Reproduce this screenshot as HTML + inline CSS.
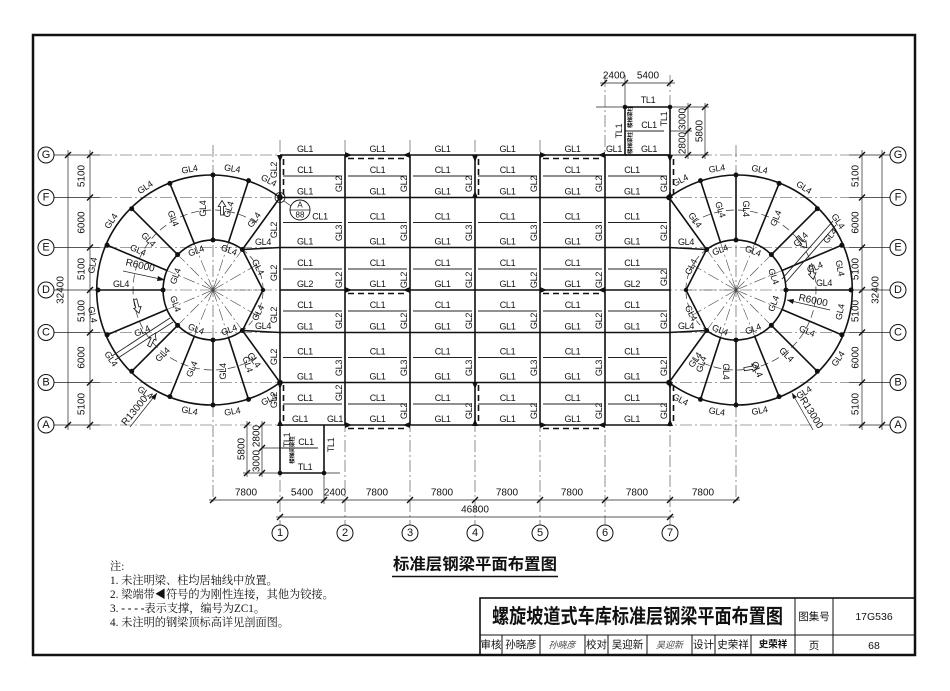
<!DOCTYPE html>
<html><head><meta charset="utf-8"><style>
html,body{margin:0;padding:0;background:#fff}
svg{display:block}
text{font-family:"Liberation Sans","Noto Sans CJK SC",sans-serif;fill:#111;text-anchor:middle;dominant-baseline:central}
.t{font-size:9px;letter-spacing:-0.3px}
.d{font-size:10px}
.m{stroke:#111;stroke-width:1.6;fill:none}
.s{stroke:#222;stroke-width:0.9;fill:none}
.th{stroke:#222;stroke-width:0.7;fill:none}
.ax{stroke:#444;stroke-width:0.6;fill:none;stroke-dasharray:12 3 2 3}
.br{stroke:#111;stroke-width:1.6;fill:none;stroke-dasharray:6 4}
.cj text{font-family:"Liberation Serif","Noto Serif CJK SC",serif;text-anchor:start;font-size:11.2px}
</style></head><body>
<svg width="950" height="691" viewBox="0 0 950 691" xmlns="http://www.w3.org/2000/svg">
<defs>
<path id="tk" d="M-3,3L3,-3" stroke="#111" stroke-width="1.4"/>
<path id="tr" d="M0,0L-7,-3L-7,3Z" fill="#111"/>
<path id="ar" d="M-1.6,7V-1.5H-3.8L0,-7.5L3.8,-1.5H1.6V7Z" fill="#fff" stroke="#111" stroke-width="0.8"/>
<g id="circ">
<path class="ax" d="M213,290L263,290M213,290L256.3,265M213,290L242.4,249.5M213,290L228.5,242.4M213,290L194.3,243.6M213,290L177.6,254.6M213,290L167,270.5M213,290L167,309.5M213,290L177.6,325.4M213,290L194.3,336.4M213,290L228.5,337.6M213,290L242.4,330.5M213,290L256.3,315"/>
<path d="M256.6,222.9A80,80 0 1 0 256.6,357.1" stroke="#333" stroke-width="0.7" fill="none" stroke-dasharray="8 4"/>
<path d="M242.4,249.5A50,50 0 0 1 242.4,330.5" stroke="#333" stroke-width="0.7" fill="none" stroke-dasharray="6 4"/>
<path class="m" d="M280,197.5A115,115 0 1 0 280,382.5"/>
<path class="m" d="M242.4,249.5A50,50 0 1 0 242.4,330.5"/>
<path class="m" d="M242.4,249.5L263,290L242.4,330.5"/>
<path class="m" d="M248.5,180.6L228.5,242.4M213,175L213,240M169.9,183.4L194.3,243.6M131.7,208.7L177.6,254.6M107.1,245.1L167,270.5M98,290L163,290M107.1,334.9L167,309.5M131.7,371.3L177.6,325.4M169.9,396.6L194.3,336.4M213,405L213,340M248.5,399.4L228.5,337.6M280,197.5L242.4,249.5M280,382.5L242.4,330.5M242.4,249.5L280,247.5M242.4,330.5L280,332.5"/>
<g fill="#111">
<circle cx="280" cy="197.5" r="2.8"/><circle cx="248.5" cy="180.6" r="2.5"/><circle cx="213" cy="175" r="2.5"/><circle cx="169.9" cy="183.4" r="2.5"/><circle cx="131.7" cy="208.7" r="2.5"/><circle cx="107.1" cy="245.1" r="2.5"/><circle cx="98" cy="290" r="2.5"/><circle cx="107.1" cy="334.9" r="2.5"/><circle cx="131.7" cy="371.3" r="2.5"/><circle cx="169.9" cy="396.6" r="2.5"/><circle cx="213" cy="405" r="2.5"/><circle cx="248.5" cy="399.4" r="2.5"/><circle cx="280" cy="382.5" r="2.8"/>
<circle cx="242.4" cy="249.5" r="2.5"/><circle cx="213" cy="240" r="2.5"/><circle cx="177.6" cy="254.6" r="2.5"/><circle cx="163" cy="290" r="2.5"/><circle cx="177.6" cy="325.4" r="2.5"/><circle cx="213" cy="340" r="2.5"/><circle cx="242.4" cy="330.5" r="2.5"/><circle cx="263" cy="290" r="2.2"/>
</g>
</g>
</defs>

<!-- frame -->
<rect x="33" y="35" width="882" height="620" fill="none" stroke="#111" stroke-width="2.5"/>

<!-- axis lines -->
<path class="th" d="M54,155H100M54,197.5H100M54,247.5H100M54,290H100M54,332.5H100M54,382.5H100M54,425H100M849,155H890M849,197.5H890M849,247.5H890M849,290H890M849,332.5H890M849,382.5H890M849,425H890"/>
<path class="ax" d="M100,155H849M100,197.5H849M100,247.5H849M100,290H849M100,332.5H849M100,382.5H849M100,425H849"/>
<path class="ax" d="M280,140V525M345,140V525M410,140V525M475,140V525M540,140V525M605,75V525M670,75V525M213,145V504M736,145V504"/>

<!-- left dims -->
<path class="th" d="M90,150V430M68,150V430"/>
<use href="#tk" x="90" y="155"/><use href="#tk" x="90" y="197.5"/><use href="#tk" x="90" y="247.5"/><use href="#tk" x="90" y="290"/><use href="#tk" x="90" y="332.5"/><use href="#tk" x="90" y="382.5"/><use href="#tk" x="90" y="425"/>
<use href="#tk" x="68" y="155"/><use href="#tk" x="68" y="425"/>
<g class="d">
<text transform="translate(82,176) rotate(-90)">5100</text>
<text transform="translate(82,222.5) rotate(-90)">6000</text>
<text transform="translate(82,269) rotate(-90)">5100</text>
<text transform="translate(82,311) rotate(-90)">5100</text>
<text transform="translate(82,357.5) rotate(-90)">6000</text>
<text transform="translate(82,404) rotate(-90)">5100</text>
<text transform="translate(61,290) rotate(-90)">32400</text>
</g>
<!-- right dims -->
<path class="th" d="M862,150V430M882,150V430"/>
<use href="#tk" x="862" y="155"/><use href="#tk" x="862" y="197.5"/><use href="#tk" x="862" y="247.5"/><use href="#tk" x="862" y="290"/><use href="#tk" x="862" y="332.5"/><use href="#tk" x="862" y="382.5"/><use href="#tk" x="862" y="425"/>
<use href="#tk" x="882" y="155"/><use href="#tk" x="882" y="425"/>
<g class="d">
<text transform="translate(856,176) rotate(-90)">5100</text>
<text transform="translate(856,222.5) rotate(-90)">6000</text>
<text transform="translate(856,269) rotate(-90)">5100</text>
<text transform="translate(856,311) rotate(-90)">5100</text>
<text transform="translate(856,357.5) rotate(-90)">6000</text>
<text transform="translate(856,404) rotate(-90)">5100</text>
<text transform="translate(876,290) rotate(-90)">32400</text>
</g>

<!-- axis bubbles -->
<g fill="#fff" stroke="#111" stroke-width="1">
<circle cx="46" cy="155" r="8"/><circle cx="46" cy="197.5" r="8"/><circle cx="46" cy="247.5" r="8"/><circle cx="46" cy="290" r="8"/><circle cx="46" cy="332.5" r="8"/><circle cx="46" cy="382.5" r="8"/><circle cx="46" cy="425" r="8"/>
<circle cx="898" cy="155" r="8"/><circle cx="898" cy="197.5" r="8"/><circle cx="898" cy="247.5" r="8"/><circle cx="898" cy="290" r="8"/><circle cx="898" cy="332.5" r="8"/><circle cx="898" cy="382.5" r="8"/><circle cx="898" cy="425" r="8"/>
<circle cx="280" cy="533" r="8"/><circle cx="345" cy="533" r="8"/><circle cx="410" cy="533" r="8"/><circle cx="475" cy="533" r="8"/><circle cx="540" cy="533" r="8"/><circle cx="605" cy="533" r="8"/><circle cx="670" cy="533" r="8"/>
</g>
<g style="font-size:11px">
<text x="46" y="155">G</text><text x="46" y="197.5">F</text><text x="46" y="247.5">E</text><text x="46" y="290">D</text><text x="46" y="332.5">C</text><text x="46" y="382.5">B</text><text x="46" y="425">A</text>
<text x="898" y="155">G</text><text x="898" y="197.5">F</text><text x="898" y="247.5">E</text><text x="898" y="290">D</text><text x="898" y="332.5">C</text><text x="898" y="382.5">B</text><text x="898" y="425">A</text>
<text x="280" y="533">1</text><text x="345" y="533">2</text><text x="410" y="533">3</text><text x="475" y="533">4</text><text x="540" y="533">5</text><text x="605" y="533">6</text><text x="670" y="533">7</text>
</g>

<!-- bottom dims -->
<path class="th" d="M209,500H740M276,517H674M324,473V504"/>
<use href="#tk" x="213" y="500"/><use href="#tk" x="280" y="500"/><use href="#tk" x="324" y="500"/><use href="#tk" x="345" y="500"/><use href="#tk" x="410" y="500"/><use href="#tk" x="475" y="500"/><use href="#tk" x="540" y="500"/><use href="#tk" x="605" y="500"/><use href="#tk" x="670" y="500"/><use href="#tk" x="736" y="500"/>
<use href="#tk" x="280" y="517"/><use href="#tk" x="670" y="517"/>
<g class="d">
<text x="246" y="493">7800</text><text x="302" y="493">5400</text><text x="335" y="493">2400</text><text x="377" y="493">7800</text><text x="442" y="493">7800</text><text x="507" y="493">7800</text><text x="572" y="493">7800</text><text x="637" y="493">7800</text><text x="703" y="493">7800</text>
<text x="475" y="510">46800</text>
</g>

<!-- circles -->
<use href="#circ"/>
<use href="#circ" transform="translate(949,0) scale(-1,1)"/>

<!-- double lines, arrows, radius leaders -->
<path class="s" d="M112,356L170,318M115,360L173,322M782,279L833,221M786,282L836,225"/>
<use href="#ar" transform="translate(222,208)"/>
<use href="#ar" transform="translate(137,306) rotate(165)"/>
<use href="#ar" transform="translate(152,340) rotate(25)"/>
<use href="#ar" transform="translate(802,242) rotate(140)"/>
<use href="#ar" transform="translate(812,272) rotate(170)"/>
<use href="#ar" transform="translate(751,368) rotate(80)"/>
<path class="th" d="M123,271L165,280M130,427L157,393M787,300L830,310M792,393L813,430"/>
<path d="M165,280L158,276L157,281Z M157,393L151,397L155,400Z M787,300L794,299L793,304Z M792,393L797,397L793,399Z" fill="#111"/>
<text class="d" transform="translate(140,266) rotate(13)">R6000</text>
<text class="d" transform="translate(135,411) rotate(-51)">R13000</text>
<text class="d" transform="translate(813,301) rotate(12)">R6000</text>
<text class="d" transform="translate(811,413) rotate(58)">R13000</text>

<!-- rectangular main beams -->
<path class="m" d="M280,155H670M280,197.5H670M280,247.5H670M280,290H670M280,332.5H670M280,382.5H670M280,425H670M280,155V425M345,155V425M410,155V425M475,155V425M540,155V425M605,155V425M670,155V425"/>
<path class="s" d="M283,176H342M348,176H407M413,176H472M478,176H537M543,176H602M608,176H667
M283,222.5H342M348,222.5H407M413,222.5H472M478,222.5H537M543,222.5H602M608,222.5H667
M283,269H342M348,269H407M413,269H472M478,269H537M543,269H602M608,269H667
M283,311H342M348,311H407M413,311H472M478,311H537M543,311H602M608,311H667
M283,357.5H342M348,357.5H407M413,357.5H472M478,357.5H537M543,357.5H602M608,357.5H667
M283,404H342M348,404H407M413,404H472M478,404H537M543,404H602M608,404H667"/>
<!-- braces -->
<path class="br" d="M348,158.5H407M543,158.5H602M348,293.5H407M543,293.5H602M348,428.5H407M543,428.5H602M283.5,159V195M478.5,159V195M673.5,159V195M283.5,385V423M478.5,385V423M673.5,385V423"/>
<!-- rigid connection triangles -->
<use href="#tr" transform="translate(352,155)"/><use href="#tr" transform="translate(403,155) scale(-1,1)"/>
<use href="#tr" transform="translate(547,155)"/><use href="#tr" transform="translate(598,155) scale(-1,1)"/>
<use href="#tr" transform="translate(352,290)"/><use href="#tr" transform="translate(403,290) scale(-1,1)"/>
<use href="#tr" transform="translate(547,290)"/><use href="#tr" transform="translate(598,290) scale(-1,1)"/>
<use href="#tr" transform="translate(352,425)"/><use href="#tr" transform="translate(403,425) scale(-1,1)"/>
<use href="#tr" transform="translate(547,425)"/><use href="#tr" transform="translate(598,425) scale(-1,1)"/>
<use href="#tr" transform="translate(280,162) rotate(90)"/><use href="#tr" transform="translate(475,162) rotate(90)"/><use href="#tr" transform="translate(670,162) rotate(90)"/>
<use href="#tr" transform="translate(280,191) rotate(-90)"/><use href="#tr" transform="translate(475,191) rotate(-90)"/><use href="#tr" transform="translate(670,191) rotate(-90)"/>
<use href="#tr" transform="translate(280,389) rotate(90)"/><use href="#tr" transform="translate(475,389) rotate(90)"/><use href="#tr" transform="translate(670,389) rotate(90)"/>
<use href="#tr" transform="translate(280,419) rotate(-90)"/><use href="#tr" transform="translate(475,419) rotate(-90)"/><use href="#tr" transform="translate(670,419) rotate(-90)"/>

<!-- top stair -->
<path class="th" d="M596,107H625M625,75V107M600,83H675M670,107H709M670,131H692M670,155H709M688,103V159M705,103V159"/>
<use href="#tk" x="604" y="83"/><use href="#tk" x="625" y="83"/><use href="#tk" x="670" y="83"/>
<use href="#tk" x="688" y="107"/><use href="#tk" x="688" y="131"/><use href="#tk" x="688" y="155"/><use href="#tk" x="705" y="107"/><use href="#tk" x="705" y="155"/>
<path class="m" d="M625,107H670M625,107V155M670,107V155M604,155H670"/>
<path class="s" d="M625,131H664"/>
<circle cx="625" cy="107" r="2.3" fill="#111"/><circle cx="670" cy="107" r="2.3" fill="#111"/>
<g class="d">
<text x="614" y="76">2400</text><text x="648" y="76">5400</text>
<text transform="translate(683,119) rotate(-90)">3000</text>
<text transform="translate(683,143) rotate(-90)">2800</text>
<text transform="translate(700,131) rotate(-90)">5800</text>
</g>
<g class="t">
<text x="648" y="100">TL1</text>
<text transform="translate(619,131) rotate(-90)">TL1</text>
<text transform="translate(664,119) rotate(-90)">TL1</text>
<text x="649" y="125">CL1</text>
<text x="649" y="149">GL1</text>
<text x="614" y="149">GL1</text>
</g>
<text transform="translate(631,117) rotate(-90)" style="font-size:5.5px;font-weight:bold">楼梯梁柱</text>
<text transform="translate(631,143) rotate(-90)" style="font-size:5.5px;font-weight:bold">楼梯梁柱</text>

<!-- bottom stair -->
<path class="th" d="M243,473H280M247,421V477M262,421V477M263,448H280M324,473H340"/>
<use href="#tk" x="247" y="425"/><use href="#tk" x="247" y="473"/><use href="#tk" x="262" y="425"/><use href="#tk" x="262" y="448"/><use href="#tk" x="262" y="473"/>
<path class="m" d="M280,425V473M324,425V473M280,473H324"/>
<path class="s" d="M280,448H318"/>
<circle cx="280" cy="473" r="2.3" fill="#111"/><circle cx="324" cy="473" r="2.3" fill="#111"/>
<g class="d">
<text transform="translate(242,449) rotate(-90)">5800</text>
<text transform="translate(257,436) rotate(-90)">2800</text>
<text transform="translate(257,461) rotate(-90)">3000</text>
</g>
<g class="t">
<text transform="translate(287,440) rotate(-90)">TL1</text>
<text transform="translate(331,445) rotate(-90)">TL1</text>
<text x="305" y="467">TL1</text>
<text x="306" y="442">CL1</text>
<text x="300" y="419">GL1</text>
<text x="335" y="419">GL1</text>
</g>
<text transform="translate(293,450) rotate(-90)" style="font-size:5.5px;font-weight:bold">楼梯间梁柱</text>

<!-- detail callout -->
<circle cx="280" cy="197.5" r="5" fill="none" stroke="#111" stroke-width="0.8"/>
<path class="th" d="M284,201L291,206"/>
<circle cx="300" cy="210" r="10" fill="#fff" stroke="#111" stroke-width="0.9"/>
<path class="th" d="M290,210H310"/>
<text x="300" y="205" style="font-size:8px">A</text>
<text x="300" y="215" style="font-size:8px">88</text>

<!-- horizontal labels -->
<g class="t">
<text x="305" y="149">GL1</text><text x="377.5" y="149">GL1</text><text x="442.5" y="149">GL1</text><text x="507.5" y="149">GL1</text><text x="572.5" y="149">GL1</text>
<text x="305" y="170">CL1</text><text x="377.5" y="170">CL1</text><text x="442.5" y="170">CL1</text><text x="507.5" y="170">CL1</text><text x="572.5" y="170">CL1</text><text x="632" y="170">CL1</text>
<text x="305" y="191.5">GL1</text><text x="377.5" y="191.5">GL1</text><text x="442.5" y="191.5">GL1</text><text x="507.5" y="191.5">GL1</text><text x="572.5" y="191.5">GL1</text><text x="632" y="191.5">GL1</text>
<text x="320" y="216.5">CL1</text><text x="377.5" y="216.5">CL1</text><text x="442.5" y="216.5">CL1</text><text x="507.5" y="216.5">CL1</text><text x="572.5" y="216.5">CL1</text><text x="632" y="216.5">CL1</text>
<text x="305" y="241.5">GL1</text><text x="377.5" y="241.5">GL1</text><text x="442.5" y="241.5">GL1</text><text x="507.5" y="241.5">GL1</text><text x="572.5" y="241.5">GL1</text><text x="632" y="241.5">GL1</text>
<text x="305" y="263">CL1</text><text x="377.5" y="263">CL1</text><text x="442.5" y="263">CL1</text><text x="507.5" y="263">CL1</text><text x="572.5" y="263">CL1</text><text x="632" y="263">CL1</text>
<text x="305" y="284">GL2</text><text x="377.5" y="284">GL1</text><text x="442.5" y="284">GL1</text><text x="507.5" y="284">GL1</text><text x="572.5" y="284">GL1</text><text x="632" y="284">GL2</text>
<text x="305" y="305">CL1</text><text x="377.5" y="305">CL1</text><text x="442.5" y="305">CL1</text><text x="507.5" y="305">CL1</text><text x="572.5" y="305">CL1</text><text x="632" y="305">CL1</text>
<text x="305" y="326.5">GL1</text><text x="377.5" y="326.5">GL1</text><text x="442.5" y="326.5">GL1</text><text x="507.5" y="326.5">GL1</text><text x="572.5" y="326.5">GL1</text><text x="632" y="326.5">GL1</text>
<text x="305" y="351.5">CL1</text><text x="377.5" y="351.5">CL1</text><text x="442.5" y="351.5">CL1</text><text x="507.5" y="351.5">CL1</text><text x="572.5" y="351.5">CL1</text><text x="632" y="351.5">CL1</text>
<text x="305" y="376.5">GL1</text><text x="377.5" y="376.5">GL1</text><text x="442.5" y="376.5">GL1</text><text x="507.5" y="376.5">GL1</text><text x="572.5" y="376.5">GL1</text><text x="632" y="376.5">GL1</text>
<text x="305" y="398">CL1</text><text x="377.5" y="398">CL1</text><text x="442.5" y="398">CL1</text><text x="507.5" y="398">CL1</text><text x="572.5" y="398">CL1</text><text x="632" y="398">CL1</text>
<text x="377.5" y="419">GL1</text><text x="442.5" y="419">GL1</text><text x="507.5" y="419">GL1</text><text x="572.5" y="419">GL1</text><text x="632" y="419">GL1</text>
</g>
<!-- vertical labels -->
<g class="t">
<text transform="translate(274,170) rotate(-90)">GL2</text><text transform="translate(274,230) rotate(-90)">GL2</text><text transform="translate(274,273) rotate(-90)">GL2</text><text transform="translate(274,315) rotate(-90)">GL2</text><text transform="translate(274,357) rotate(-90)">GL2</text><text transform="translate(274,400) rotate(-90)">GL2</text>
<text transform="translate(339,184) rotate(-90)">GL2</text><text transform="translate(404,184) rotate(-90)">GL2</text><text transform="translate(469,184) rotate(-90)">GL2</text><text transform="translate(534,184) rotate(-90)">GL2</text><text transform="translate(599,184) rotate(-90)">GL2</text><text transform="translate(664,184) rotate(-90)">GL2</text>
<text transform="translate(339,233) rotate(-90)">GL3</text><text transform="translate(404,233) rotate(-90)">GL3</text><text transform="translate(469,233) rotate(-90)">GL3</text><text transform="translate(534,233) rotate(-90)">GL3</text><text transform="translate(599,233) rotate(-90)">GL3</text><text transform="translate(664,233) rotate(-90)">GL2</text>
<text transform="translate(339,280) rotate(-90)">GL2</text><text transform="translate(404,280) rotate(-90)">GL2</text><text transform="translate(469,280) rotate(-90)">GL2</text><text transform="translate(534,280) rotate(-90)">GL2</text><text transform="translate(599,280) rotate(-90)">GL2</text><text transform="translate(664,278) rotate(-90)">GL2</text>
<text transform="translate(339,321) rotate(-90)">GL2</text><text transform="translate(404,321) rotate(-90)">GL2</text><text transform="translate(469,321) rotate(-90)">GL2</text><text transform="translate(534,321) rotate(-90)">GL2</text><text transform="translate(599,321) rotate(-90)">GL2</text><text transform="translate(664,321) rotate(-90)">GL2</text>
<text transform="translate(339,368) rotate(-90)">GL3</text><text transform="translate(404,368) rotate(-90)">GL3</text><text transform="translate(469,368) rotate(-90)">GL3</text><text transform="translate(534,368) rotate(-90)">GL3</text><text transform="translate(599,368) rotate(-90)">GL3</text><text transform="translate(664,368) rotate(-90)">GL2</text>
<text transform="translate(339,393) rotate(-90)">GL2</text><text transform="translate(404,411) rotate(-90)">GL2</text><text transform="translate(469,411) rotate(-90)">GL2</text><text transform="translate(534,411) rotate(-90)">GL2</text><text transform="translate(599,411) rotate(-90)">GL2</text><text transform="translate(664,411) rotate(-90)">GL2</text>
</g>

<!-- left circle labels -->
<g class="t">
<text transform="translate(228.6,209.5) rotate(-72)">GL4</text>
<text transform="translate(203,208.6) rotate(-90)">GL4</text>
<text transform="translate(173.2,218.3) rotate(68)">GL4</text>
<text transform="translate(148.4,239.5) rotate(45)">GL4</text>
<text transform="translate(138,250) rotate(23)">GL4</text>
<text transform="translate(121,284) rotate(0)">GL4</text>
<text transform="translate(142,331) rotate(-23)">GL4</text>
<text transform="translate(162.5,354.6) rotate(-45)">GL4</text>
<text transform="translate(191.8,369.2) rotate(-68)">GL4</text>
<text transform="translate(223,371.4) rotate(-90)">GL4</text>
<text transform="translate(247.7,364.3) rotate(72)">GL4</text>
<text transform="translate(254,220) rotate(-54)">GL4</text>
<text transform="translate(254,360) rotate(54)">GL4</text>
<text transform="translate(268.8,180.4) rotate(27)">GL4</text>
<text transform="translate(232.2,168.5) rotate(9)">GL4</text>
<text transform="translate(189.5,169.3) rotate(-11)">GL4</text>
<text transform="translate(145.1,187.4) rotate(-33.5)">GL4</text>
<text transform="translate(111,221.2) rotate(-56)">GL4</text>
<text transform="translate(92.5,265.5) rotate(-78.5)">GL4</text>
<text transform="translate(92.5,314.5) rotate(78.5)">GL4</text>
<text transform="translate(111,358.8) rotate(56)">GL4</text>
<text transform="translate(145.1,392.6) rotate(33.5)">GL4</text>
<text transform="translate(189.5,410.7) rotate(11)">GL4</text>
<text transform="translate(232.2,411.5) rotate(-9)">GL4</text>
<text transform="translate(268.8,399.6) rotate(-27)">GL4</text>
<text transform="translate(196,251) rotate(-20)">GL4</text>
<text transform="translate(229,250) rotate(20)">GL4</text>
<text transform="translate(175.4,276.3) rotate(-70)">GL4</text>
<text transform="translate(175.4,303.7) rotate(70)">GL4</text>
<text transform="translate(196,329) rotate(20)">GL4</text>
<text transform="translate(229,330) rotate(-20)">GL4</text>
<text transform="translate(258,267) rotate(63)">GL4</text>
<text transform="translate(258,313) rotate(-63)">GL4</text>
<text transform="translate(263,242)">GL4</text>
<text transform="translate(263,326)">GL4</text>
</g>
<!-- right circle labels -->
<g class="t">
<text transform="translate(720.4,209.5) rotate(72)">GL4</text>
<text transform="translate(746,208.6) rotate(90)">GL4</text>
<text transform="translate(775.8,218.3) rotate(-68)">GL4</text>
<text transform="translate(800.6,239.5) rotate(-45)">GL4</text>
<text transform="translate(814.8,267.4) rotate(-23)">GL4</text>
<text transform="translate(824,283)">GL4</text>
<text transform="translate(807,331) rotate(23)">GL4</text>
<text transform="translate(786.5,354.6) rotate(45)">GL4</text>
<text transform="translate(757.2,369.2) rotate(68)">GL4</text>
<text transform="translate(726,371.4) rotate(90)">GL4</text>
<text transform="translate(701.3,364.3) rotate(-72)">GL4</text>
<text transform="translate(695,220) rotate(54)">GL4</text>
<text transform="translate(695,360) rotate(-54)">GL4</text>
<text transform="translate(680.2,180.4) rotate(-27)">GL4</text>
<text transform="translate(716.8,168.5) rotate(-9)">GL4</text>
<text transform="translate(759.5,169.3) rotate(11)">GL4</text>
<text transform="translate(803.9,187.4) rotate(33.5)">GL4</text>
<text transform="translate(838,221.2) rotate(56)">GL4</text>
<text transform="translate(840,268) rotate(78.5)">GL4</text>
<text transform="translate(840,312) rotate(-78.5)">GL4</text>
<text transform="translate(838,358.8) rotate(-56)">GL4</text>
<text transform="translate(803.9,392.6) rotate(-33.5)">GL4</text>
<text transform="translate(759.5,410.7) rotate(-11)">GL4</text>
<text transform="translate(716.8,411.5) rotate(9)">GL4</text>
<text transform="translate(680.2,399.6) rotate(27)">GL4</text>
<text transform="translate(753,251) rotate(20)">GL4</text>
<text transform="translate(720,250) rotate(-20)">GL4</text>
<text transform="translate(773.6,276.3) rotate(70)">GL4</text>
<text transform="translate(773.6,303.7) rotate(-70)">GL4</text>
<text transform="translate(753,329) rotate(-20)">GL4</text>
<text transform="translate(720,330) rotate(20)">GL4</text>
<text transform="translate(691,267) rotate(-63)">GL4</text>
<text transform="translate(691,313) rotate(63)">GL4</text>
<text transform="translate(686,242)">GL4</text>
<text transform="translate(686,326)">GL4</text>
<text transform="translate(830,236) rotate(-50)">GL4</text>
</g>

<!-- title -->
<text x="475" y="565" style="font-family:'Liberation Sans','Noto Sans CJK SC',sans-serif;font-size:16px;font-weight:bold" textLength="164" lengthAdjust="spacingAndGlyphs">标准层钢梁平面布置图</text>
<path d="M392,576.5H558" stroke="#111" stroke-width="1.6"/>

<!-- notes -->
<g class="cj">
<text x="110" y="567">注:</text>
<text x="110" y="581">1. 未注明梁、柱均居轴线中放置。</text>
<text x="110" y="595">2. 梁端带◀符号的为刚性连接，其他为铰接。</text>
<text x="110" y="609">3. <tspan font-weight="bold">- - - -</tspan>表示支撑，编号为ZC1。</text>
<text x="110" y="623">4. 未注明的钢梁顶标高详见剖面图。</text>
</g>

<!-- title block -->
<g fill="none" stroke="#111">
<rect x="480" y="598" width="435" height="57" stroke-width="1.6"/>
<path d="M480,635H915M795,598V655M833,598V655M502,635V655M540,635V655M585,635V655M608,635V655M647,635V655M692,635V655M715,635V655M751,635V655" stroke-width="1"/>
</g>
<text x="637.5" y="617" style="font-family:'Liberation Sans','Noto Sans CJK SC',sans-serif;font-size:20px;font-weight:bold" textLength="291" lengthAdjust="spacingAndGlyphs">螺旋坡道式车库标准层钢梁平面布置图</text>
<g style="font-family:'Liberation Serif','Noto Serif CJK SC',serif;font-size:10.5px">
<text x="814" y="617">图集号</text><text x="874" y="617">17G536</text>
<text x="814" y="646">页</text><text x="874" y="646">68</text>
<text x="491" y="645">审核</text><text x="521" y="645">孙晓彦</text>
<text x="562" y="645" style="font-style:italic;font-size:9px;fill:#444">孙晓彦</text>
<text x="596.5" y="645">校对</text><text x="627.5" y="645">吴迎新</text>
<text x="669.5" y="645" style="font-style:italic;font-size:9px;fill:#444">吴迎新</text>
<text x="703.5" y="645">设计</text><text x="733" y="645">史荣祥</text>
<text x="773" y="645" style="font-weight:bold;font-size:9.5px">史荣祥</text>
</g>
</svg>
</body></html>
